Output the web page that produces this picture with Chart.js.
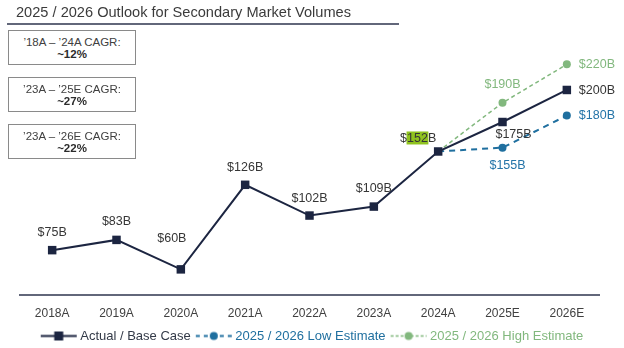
<!DOCTYPE html>
<html><head><meta charset="utf-8">
<script src="https://cdn.jsdelivr.net/npm/chart.js@4.4.1/dist/chart.umd.min.js"></script>
<style>
html,body{margin:0;padding:0;background:#fff;}
#wrap{position:relative;width:624px;height:348px;overflow:hidden;font-family:'Liberation Sans',Arial,sans-serif;}
#c{position:absolute;left:0;top:0;}
#title{position:absolute;left:16px;top:3px;font-size:14.6px;color:#3b3b3b;line-height:18px;white-space:nowrap;}
#rule{position:absolute;left:7px;top:23px;width:392px;height:2px;background:#62677a;}
.box{position:absolute;left:8px;width:126px;height:33px;border:1px solid #8a8a8a;text-align:center;font-size:11.5px;color:#404040;line-height:12px;background:#fff;}
.box .l1{margin-top:5px}
.box .l2{font-weight:bold;color:#2b2b2b}
</style></head>
<body>
<div id="wrap">
<canvas id="c" width="624" height="348"></canvas>
<div id="title">2025 / 2026 Outlook for Secondary Market Volumes</div>
<div id="rule"></div>
<div class="box" style="top:30px"><div class="l1">’18A – ’24A CAGR:</div><div class="l2">~12%</div></div>
<div class="box" style="top:77px"><div class="l1">’23A – ’25E CAGR:</div><div class="l2">~27%</div></div>
<div class="box" style="top:124px"><div class="l1">’23A – ’26E CAGR:</div><div class="l2">~22%</div></div>
</div>
<script>
const categories = ['2018A','2019A','2020A','2021A','2022A','2023A','2024A','2025E','2026E'];
const actualValues = [75, 83, 60, 126, 102, 109, 152, 175, 200];
const lowValues = [null, null, null, null, null, null, 152, 155, 180];
const highValues = [null, null, null, null, null, null, 152, 190, 220];
const seriesNames = ['Actual / Base Case', '2025 / 2026 Low Estimate', '2025 / 2026 High Estimate'];

const NAVY = '#1c2541', BLUE = '#1f6f9f', GREEN = '#82b87e';
const labelColors = ['#363636', '#2474a8', '#82b87e'];
const legendColors = ['#333a48', '#1f6f9f', '#82b87e'];

// label placement (style only)
const labelPlacement = [
  [{dx:0,dy:-18},{dx:0,dy:-18},{dx:-9,dy:-31},{dx:0,dy:-17},{dx:0,dy:-17},{dx:0,dy:-18},{dx:-20,dy:-13,hl:true},{dx:11,dy:13},{dx:12,dy:1,align:'left'}],
  [null,null,null,null,null,null,null,{dx:5,dy:18},{dx:12,dy:0,align:'left'}],
  [null,null,null,null,null,null,null,{dx:0,dy:-18},{dx:12,dy:0,align:'left'}]
];

function legendIcon(color, dash, marker, lw) {
  const c = document.createElement('canvas'); c.width = 46; c.height = 13;
  const g = c.getContext('2d');
  g.strokeStyle = color; g.lineWidth = lw; g.setLineDash(dash);
  g.beginPath(); g.moveTo(9, 6.5); g.lineTo(45, 6.5); g.stroke();
  g.setLineDash([]); g.fillStyle = color;
  if (marker === 'rect') g.fillRect(27 - 4.5, 2, 9, 9);
  else { g.beginPath(); g.arc(27, 6.5, 4, 0, Math.PI * 2); g.fill(); }
  return c;
}
const icons = [legendIcon(NAVY, [], 'rect', 2), legendIcon(BLUE, [4, 4], 'circle', 2), legendIcon(GREEN, [3, 2], 'circle', 1.5)];

const labelPlugin = {
  id: 'valueLabels',
  afterDatasetsDraw(chart) {
    const ctx = chart.ctx;
    ctx.save();
    ctx.font = '12.5px "Liberation Sans", Arial, sans-serif';
    ctx.textBaseline = 'middle';
    chart.data.datasets.forEach((ds, di) => {
      const meta = chart.getDatasetMeta(di);
      ds.data.forEach((v, i) => {
        const p = labelPlacement[di][i];
        if (v == null || !p) return;
        const el = meta.data[i];
        const x = el.x + p.dx, y = el.y + p.dy;
        ctx.fillStyle = labelColors[di];
        if (p.hl) {
          const w1 = ctx.measureText('$').width, w2 = ctx.measureText(String(v)).width, w3 = ctx.measureText('B').width;
          const sx = x - (w1 + w2 + w3) / 2;
          ctx.fillStyle = '#8fc31f';
          ctx.fillRect(sx + w1 - 0.5, y - 7, w2 + 1, 13);
          ctx.fillStyle = labelColors[di];
          ctx.textAlign = 'left';
          ctx.fillText('$' + v + 'B', sx, y);
        } else {
          ctx.textAlign = p.align || 'center';
          ctx.fillText('$' + v + 'B', x, y);
        }
      });
    });
    ctx.restore();
  }
};

Chart.defaults.font.family = '"Liberation Sans", Arial, sans-serif';
new Chart(document.getElementById('c'), {
  type: 'line',
  data: {
    labels: categories,
    datasets: [
      { label: seriesNames[0], data: actualValues, borderColor: NAVY, backgroundColor: NAVY, borderWidth: 2,
        pointStyle: 'rect', pointRadius: 6, pointBorderWidth: 0, pointBackgroundColor: NAVY, order: 0, tension: 0 },
      { label: seriesNames[1], data: lowValues, borderColor: BLUE, backgroundColor: BLUE, borderWidth: 2, borderDash: [6, 5],
        pointStyle: 'circle', pointRadius: c => c.dataIndex === 6 ? 0 : 4, pointBorderWidth: 0, pointBackgroundColor: BLUE, order: 1 },
      { label: seriesNames[2], data: highValues, borderColor: GREEN, backgroundColor: GREEN, borderWidth: 1.5, borderDash: [4, 3],
        pointStyle: 'circle', pointRadius: c => c.dataIndex === 6 ? 0 : 4, pointBorderWidth: 0, pointBackgroundColor: GREEN, order: 2 }
    ]
  },
  options: {
    responsive: false, animation: false, devicePixelRatio: 1,
    layout: { padding: { left: 20, right: 25, top: 40, bottom: 0 } },
    scales: {
      x: { offset: true, grid: { display: false, drawTicks: false },
           border: { display: true, color: '#62677a', width: 2 },
           ticks: { color: '#404040', font: { size: 12 }, padding: 11, maxRotation: 0 },
           afterFit: s => { s.height = 34.5; } },
      y: { display: false, min: 40, max: 239 }
    },
    plugins: {
      tooltip: { enabled: false },
      legend: { position: 'bottom', maxHeight: 18.5,
        labels: { usePointStyle: true, pointStyleWidth: 38, padding: 0, font: { size: 13 },
          generateLabels: () => seriesNames.map((t, i) => ({ text: t, fontColor: legendColors[i], pointStyle: icons[i],
            datasetIndex: i, hidden: false, lineWidth: 0, strokeStyle: 'rgba(0,0,0,0)', fillStyle: 'rgba(0,0,0,0)' })) } }
    }
  },
  plugins: [labelPlugin]
});
</script>
</body></html>
